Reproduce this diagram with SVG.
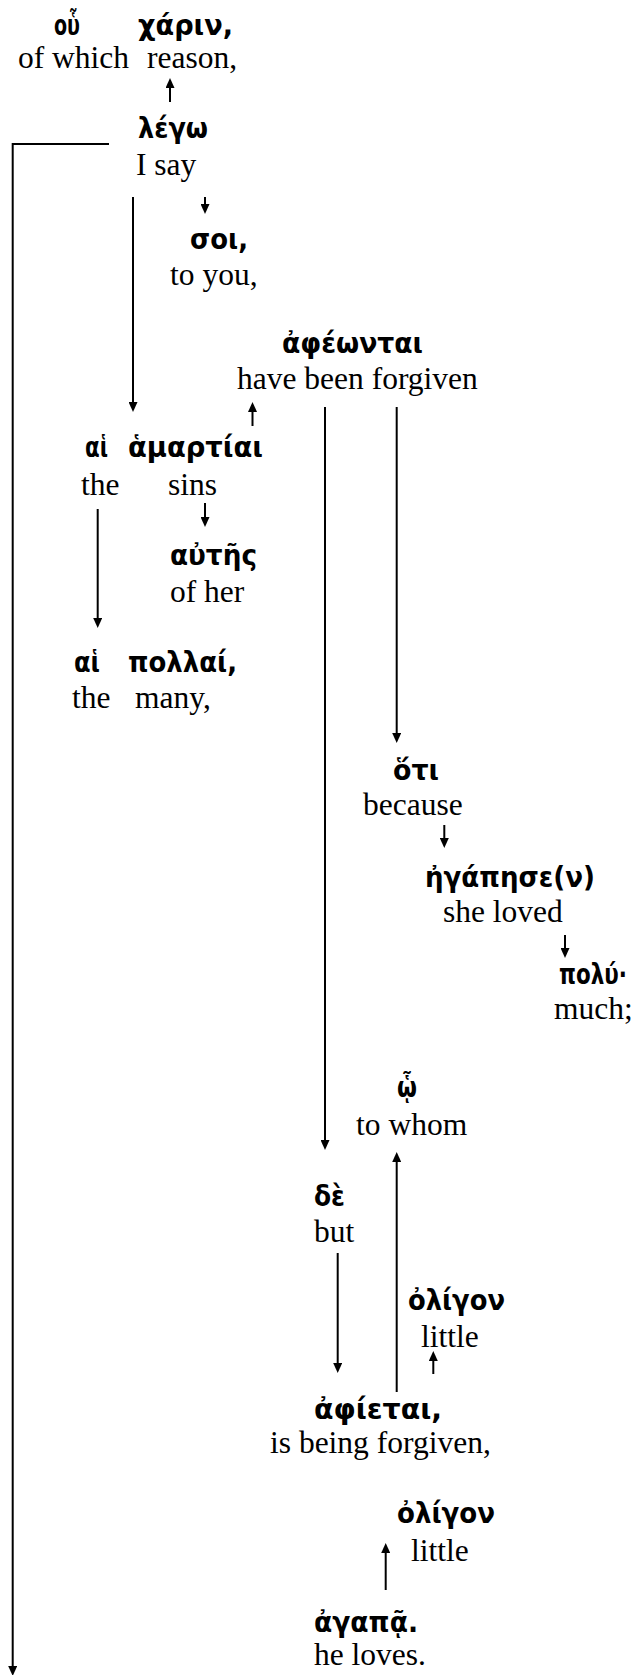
<svg xmlns="http://www.w3.org/2000/svg" width="635" height="1675" viewBox="0 0 635 1675">
  <style>
    .gk { font-family: "DejaVu Sans", "Noto Sans", sans-serif; font-weight: bold; font-size: 29px; fill: #000; }
    .en { font-family: "Liberation Serif", "Times New Roman", serif; font-size: 31.5px; fill: #000; }
    .ar { stroke: #000; stroke-width: 2; fill: none; marker-end: url(#head); }
  </style>
  <defs>
    <marker id="head" viewBox="0 0 10 9" refX="2" refY="4.5" markerWidth="10" markerHeight="9" markerUnits="userSpaceOnUse" orient="auto">
      <path d="M0,0 L10,4.5 L0,9 z" fill="#000"/>
    </marker>
  </defs>
  <rect width="635" height="1675" fill="#fff"/>

  <!-- word nodes: Greek over English gloss -->
  <g id="n-ou">
    <text class="gk" x="54" y="35" textLength="26" lengthAdjust="spacingAndGlyphs">οὗ</text>
    <text class="en" x="18" y="68">of which</text>
  </g>
  <g id="n-charin">
    <text class="gk" x="138" y="35" textLength="95" lengthAdjust="spacingAndGlyphs">χάριν,</text>
    <text class="en" x="147" y="68">reason,</text>
  </g>
  <g id="n-lego">
    <text class="gk" x="138" y="138" textLength="70" lengthAdjust="spacingAndGlyphs">λέγω</text>
    <text class="en" x="136" y="175">I say</text>
  </g>
  <g id="n-soi">
    <text class="gk" x="190" y="249" textLength="58" lengthAdjust="spacingAndGlyphs">σοι,</text>
    <text class="en" x="170" y="285">to you,</text>
  </g>
  <g id="n-aphewntai">
    <text class="gk" x="282" y="353" textLength="141" lengthAdjust="spacingAndGlyphs">ἀφέωνται</text>
    <text class="en" x="237" y="389">have been forgiven</text>
  </g>
  <g id="n-hai-1">
    <text class="gk" x="85" y="457" textLength="23" lengthAdjust="spacingAndGlyphs">αἱ</text>
    <text class="en" x="81" y="495">the</text>
  </g>
  <g id="n-hamartiai">
    <text class="gk" x="128" y="457" textLength="135" lengthAdjust="spacingAndGlyphs">ἁμαρτίαι</text>
    <text class="en" x="168" y="495">sins</text>
  </g>
  <g id="n-autes">
    <text class="gk" x="170" y="565" textLength="87" lengthAdjust="spacingAndGlyphs">αὐτῆς</text>
    <text class="en" x="170" y="602">of her</text>
  </g>
  <g id="n-hai-2">
    <text class="gk" x="74" y="672" textLength="26" lengthAdjust="spacingAndGlyphs">αἱ</text>
    <text class="en" x="72" y="708">the</text>
  </g>
  <g id="n-pollai">
    <text class="gk" x="128" y="672" textLength="109" lengthAdjust="spacingAndGlyphs">πολλαί,</text>
    <text class="en" x="135" y="708">many,</text>
  </g>
  <g id="n-hoti">
    <text class="gk" x="393" y="780" textLength="46" lengthAdjust="spacingAndGlyphs">ὅτι</text>
    <text class="en" x="363" y="815">because</text>
  </g>
  <g id="n-egapese">
    <text class="gk" x="425" y="887" textLength="170" lengthAdjust="spacingAndGlyphs">ἠγάπησε(ν)</text>
    <text class="en" x="443" y="922">she loved</text>
  </g>
  <g id="n-polu">
    <!-- narrowed horizontally so the word stays inside the right edge -->
    <text class="gk" transform="translate(559,984) scale(0.74,1)" x="0" y="0">πολύ·</text>
    <text class="en" x="554" y="1019">much;</text>
  </g>
  <g id="n-ho">
    <text class="gk" x="397" y="1097" textLength="20" lengthAdjust="spacingAndGlyphs">ᾧ</text>
    <text class="en" x="356" y="1135">to whom</text>
  </g>
  <g id="n-de">
    <text class="gk" x="314" y="1206" textLength="31" lengthAdjust="spacingAndGlyphs">δὲ</text>
    <text class="en" x="314" y="1242">but</text>
  </g>
  <g id="n-oligon-1">
    <text class="gk" x="408" y="1310" textLength="97" lengthAdjust="spacingAndGlyphs">ὀλίγον</text>
    <text class="en" x="421" y="1347">little</text>
  </g>
  <g id="n-aphietai">
    <text class="gk" x="314" y="1419" textLength="128" lengthAdjust="spacingAndGlyphs">ἀφίεται,</text>
    <text class="en" x="270" y="1453">is being forgiven,</text>
  </g>
  <g id="n-oligon-2">
    <text class="gk" x="397" y="1523" textLength="98" lengthAdjust="spacingAndGlyphs">ὀλίγον</text>
    <text class="en" x="411" y="1561">little</text>
  </g>
  <g id="n-agapa">
    <text class="gk" x="314" y="1632" textLength="104" lengthAdjust="spacingAndGlyphs">ἀγαπᾷ.</text>
    <text class="en" x="314" y="1665">he loves.</text>
  </g>

  <!-- connectors -->
  <g id="connectors">
    <line class="ar" x1="170" y1="102" x2="170" y2="86"/>
    <polyline class="ar" points="109,144 12.7,144 12.7,1668"/>
    <line class="ar" x1="133" y1="197" x2="133" y2="404"/>
    <line class="ar" x1="205" y1="197" x2="205" y2="206"/>
    <line class="ar" x1="252.5" y1="426" x2="252.5" y2="410"/>
    <line class="ar" x1="325" y1="407" x2="325" y2="1142"/>
    <line class="ar" x1="396.7" y1="407" x2="396.7" y2="735"/>
    <line class="ar" x1="97.7" y1="509" x2="97.7" y2="620"/>
    <line class="ar" x1="205" y1="503" x2="205" y2="519"/>
    <line class="ar" x1="444.3" y1="825" x2="444.3" y2="840"/>
    <line class="ar" x1="565" y1="935" x2="565" y2="950"/>
    <line class="ar" x1="396.7" y1="1392" x2="396.7" y2="1160"/>
    <line class="ar" x1="337.7" y1="1253" x2="337.7" y2="1365"/>
    <line class="ar" x1="433.3" y1="1374" x2="433.3" y2="1359"/>
    <line class="ar" x1="385.7" y1="1590" x2="385.7" y2="1551"/>
  </g>
</svg>
